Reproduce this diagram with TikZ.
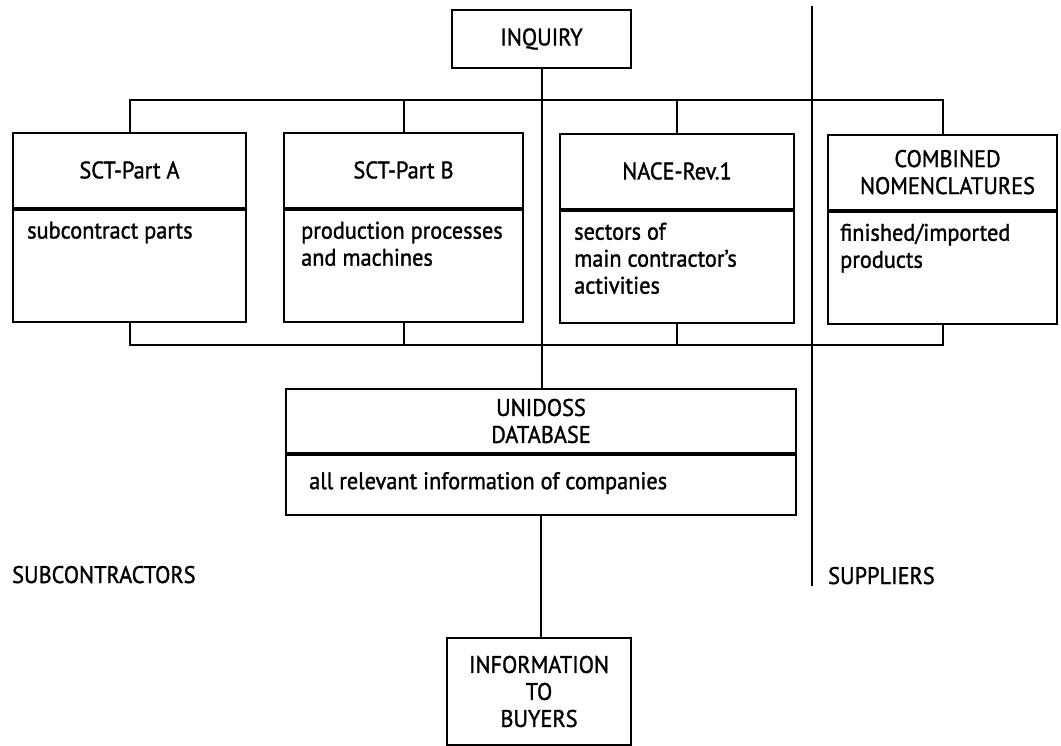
\documentclass[tikz,border=0pt]{standalone}
\usepackage{fontspec}
\setmainfont{PT Sans}[FakeStretch=0.93, FakeBold=1.3]
\begin{document}
\begin{tikzpicture}[x=1pt,y=-1pt,
  every node/.style={font=\fontsize{24}{27}\selectfont},
  ln/.style={line width=2pt, line cap=rect},
  ttl/.style={draw, line width=2pt, inner sep=0pt, align=center},
  bodyframe/.style={draw, line width=2pt, inner sep=0pt},
  bodytext/.style={inner sep=0pt, align=left, anchor=north west},
  lab/.style={inner sep=0pt, anchor=base west}]
\useasboundingbox (0,0) rectangle (1061,745);
% top node
\node[ttl, minimum width=179pt, minimum height=58pt] (inq) at (541.5,39) {INQUIRY};
% four classification boxes
\node[ttl, minimum width=233pt, minimum height=75pt] (aT) at (129.5,170) {SCT-Part A};
\node[bodyframe, minimum width=233pt, minimum height=112pt, anchor=north] (aB) at (aT.south) {};
\node[bodytext] (aX) at ([xshift=15pt,yshift=-13pt]aB.north west) {subcontract parts};

\node[ttl, minimum width=239pt, minimum height=75pt] (bT) at (403.5,170) {SCT-Part B};
\node[bodyframe, minimum width=239pt, minimum height=112pt, anchor=north] (bB) at (bT.south) {};
\node[bodytext] (bX) at ([xshift=18pt,yshift=-13pt]bB.north west) {production processes\\and machines};

\node[ttl, minimum width=234pt, minimum height=75pt] (nT) at (677,171) {NACE-Rev.1};
\node[bodyframe, minimum width=234pt, minimum height=112pt, anchor=north] (nB) at (nT.south) {};
\node[bodytext] (nX) at ([xshift=15pt,yshift=-13pt]nB.north west) {sectors of\\main contractor's\\activities};

\node[ttl, minimum width=229pt, minimum height=75pt, text depth=0pt] (cT) at (942.5,172) {\hspace*{10pt}COMBINED\\\hspace*{10pt}NOMENCLATURES};
\node[bodyframe, minimum width=229pt, minimum height=112pt, anchor=north] (cB) at (cT.south) {};
\node[bodytext] (cX) at ([xshift=13pt,yshift=-13pt]cB.north west) {finished/imported\\products};

% database
\node[ttl, minimum width=510pt, minimum height=64pt] (uT) at (541,421) {UNIDOSS\\DATABASE};
\node[bodyframe, minimum width=510pt, minimum height=60pt, anchor=north] (uB) at (uT.south) {};
\node[inner sep=0pt, anchor=west] (uX) at ([xshift=24pt,yshift=2pt]uB.west) {all relevant information of companies};

% output
\node[ttl, minimum width=184pt, minimum height=107pt] (info) at (539,691.5) {INFORMATION\\TO\\BUYERS};

% side labels
\node[lab] (sub) at (12,583) {SUBCONTRACTORS};
\node[lab] (sup) at (828,584) {SUPPLIERS};

% buses
\coordinate (tb) at (0,100);
\coordinate (bb) at (0,345);
\draw[ln] (aT.north) -- (aT.north |- tb) -- (cT.north |- tb) -- (cT.north);
\draw[ln] (bT.north) -- (bT.north |- tb);
\draw[ln] (nT.north) -- (nT.north |- tb);
\draw[ln] (aB.south) -- (aB.south |- bb) -- (cB.south |- bb) -- (cB.south);
\draw[ln] (bB.south) -- (bB.south |- bb);
\draw[ln] (nB.south) -- (nB.south |- bb);
% main spine
\draw[ln] (inq.south) -- (inq.south |- uT.north);
\draw[ln] (uB.south) -- (uB.south |- info.north);
% separator
\coordinate (s1) at (812,7);
\coordinate (s2) at (812,585);
\draw[ln] (s1) -- (s2);
\end{tikzpicture}
\end{document}
